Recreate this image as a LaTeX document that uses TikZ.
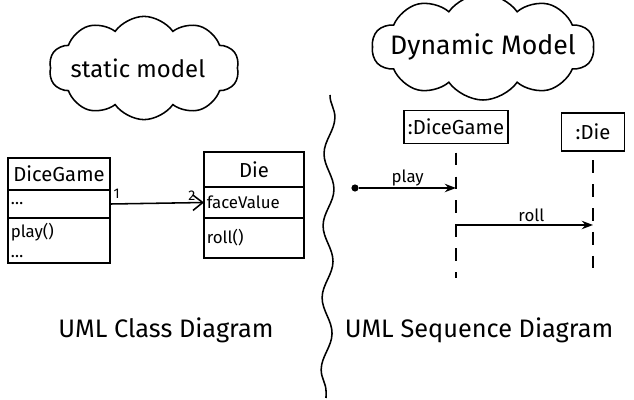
\documentclass[tikz,border=0pt]{standalone}
\usepackage{fontspec}
\setmainfont{Fira Sans}
\usetikzlibrary{arrows.meta,positioning,shapes.symbols,decorations.pathmorphing}

\begin{document}
\begin{tikzpicture}[
  x=0.025cm, y=-0.025cm, >=Stealth, line width=1.1pt,
  cloudbox/.style={draw, cloud, cloud puffs=10, cloud puff arc=110,
                   cloud ignores aspect, inner sep=0pt},
  cls/.style={draw, outer sep=0pt, inner sep=2pt},
  row/.style={cls, align=left, font=\large},
  obj/.style={draw, minimum height=0.82cm, inner sep=3pt, font=\Large},
  life/.style={dash pattern=on 9pt off 8pt, line width=1.3pt, shorten <=6pt},
  title/.style={font=\fontsize{18}{22}\selectfont, anchor=base}
]
  \useasboundingbox (0,0) rectangle (634,400);
  % clouds
  \node[cloudbox, minimum width=4.75cm, minimum height=2.58cm] (statcloud) at (144,68) {};
  \node[font=\fontsize{17}{20}\selectfont] (stattext) at (138,68) {static model};
  \node[cloudbox, minimum width=5.55cm, minimum height=2.65cm] (dyncloud) at (483,47) {};
  \node[font=\fontsize{19}{22}\selectfont] (dyntext) at (dyncloud) {Dynamic Model};
  % divider
  \draw[decorate, decoration={snake, segment length=1.8cm, amplitude=0.13cm}]
    (330,95) -- (326,398);

  % class diagram
  \node[cls, minimum width=2.55cm, minimum height=0.8cm, font=\Large,
        anchor=north] (dg) at (59,158) {DiceGame};
  \node[row, text width=2.41cm, minimum height=0.7cm, below=0pt of dg] (dgattr) {\dots};
  \node[row, text width=2.41cm, minimum height=1.125cm, below=0pt of dgattr]
    (dgops) {play()\\ \dots};
  \node[cls, minimum width=2.5cm, minimum height=0.875cm, font=\Large,
        anchor=north] (die) at (254,152) {Die};
  \node[row, text width=2.36cm, minimum height=0.775cm, below=0pt of die] (dieattr) {faceValue};
  \node[row, text width=2.36cm, minimum height=1cm, below=0pt of dieattr] (dieops) {roll()};
  \draw[-{Straight Barb[length=7pt,width=11pt]}] (dgattr.east) --
    node[pos=0.07, above]{1} node[pos=0.93, above left, inner sep=1pt]{2} (dieattr.west);
  \node[title] (cdtitle) at (166,338) {UML Class Diagram};

  % sequence diagram
  \node[obj, minimum width=2.55cm] (sdg) at (456,127) {:DiceGame};
  \node[obj, minimum width=1.575cm, minimum height=0.95cm] (sdie) at (593,132) {:Die};
  \coordinate (sdgbot) at (456,278);
  \coordinate (sdiebot) at (593,278);
  \draw[life] (sdg) -- (sdgbot);
  \draw[life] (sdie) -- (sdiebot);
  % play
  \node[circle, fill, inner sep=1.8pt] (playdot) at (355,188) {};
  \coordinate (playend) at (sdg |- playdot);
  \draw[->] (playdot) -- node[above, inner sep=1pt, font=\large]{play} (playend);
  % roll
  \coordinate (rollsrc) at (456,225);
  \coordinate (rolldst) at (rollsrc -| sdie);
  \draw[->] (rollsrc) -- node[above, pos=0.55, inner sep=2pt, font=\large]{roll} (rolldst);
  \node[title] (sdtitle) at (479,338) {UML Sequence Diagram};
\end{tikzpicture}
\end{document}
